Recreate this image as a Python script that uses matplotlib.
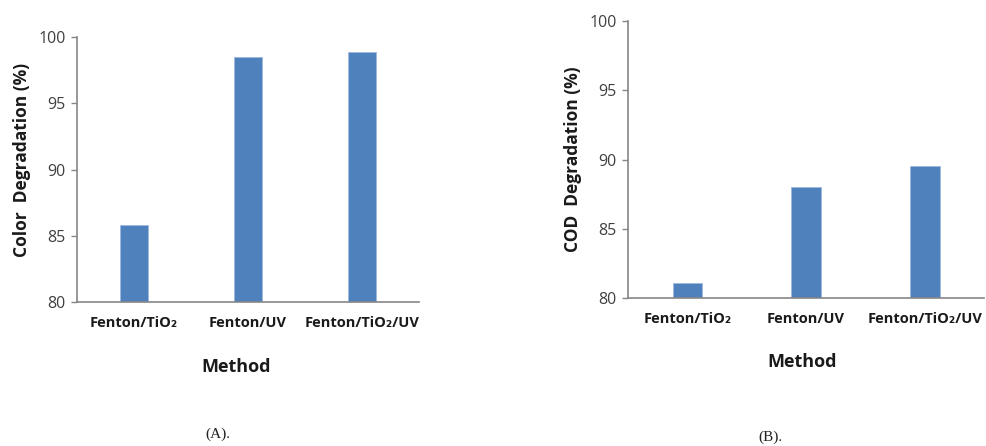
import matplotlib
matplotlib.use("Agg")
import matplotlib.pyplot as plt

methods = ["Fenton/TiO\u2082", "Fenton/UV", "Fenton/TiO\u2082/UV"]
color_degradation = [85.8, 98.5, 98.85]
cod_degradation = [81.1, 88.0, 89.5]
y_ticks = [80, 85, 90, 95, 100]

FAM = ["Open Sans", "DejaVu Sans"]
plt.rcParams["font.family"] = FAM

fig = plt.figure(figsize=(9.86, 4.46), dpi=100)

def panel(rect, values, ylabel, ylab_xy, xlab_xy):
    ax = fig.add_axes(rect)
    x = range(len(methods))
    ax.bar(x, values, width=0.25, color="#4F81BD", edgecolor="#9DB9DE", linewidth=0.6, zorder=2)
    ax.set_xlim(-0.5, 2.5)
    ax.set_ylim(80, 100)
    ax.set_yticks(y_ticks)
    ax.set_yticklabels([str(t) for t in y_ticks], fontsize=11.5, color="#404040")
    ax.set_xticks(list(x))
    ax.set_xticklabels(methods, fontsize=10.5, fontweight="bold", color="#1a1a1a")
    ax.tick_params(axis="x", length=0, pad=10)
    ax.tick_params(axis="y", length=4, width=1, color="#868686", direction="out", pad=4)
    for s in ["top", "right"]:
        ax.spines[s].set_visible(False)
    for s in ["left", "bottom"]:
        ax.spines[s].set_color("#868686")
        ax.spines[s].set_linewidth(1.2)
    ax.set_ylabel(ylabel, fontsize=12.5, fontweight="bold", color="#1a1a1a")
    ax.yaxis.set_label_coords(*ylab_xy)
    ax.yaxis.label.set_va("center")
    ax.set_xlabel("Method", fontsize=13, fontweight="bold", color="#1a1a1a")
    ax.xaxis.set_label_coords(*xlab_xy)
    ax.xaxis.label.set_va("center")
    return ax

panel([0.0781, 0.3229, 0.347, 0.594], color_degradation, "Color  Degradation (%)",
      (-0.16, 0.536), (0.465, -0.245))
panel([0.637, 0.331, 0.361, 0.6226], cod_degradation, "COD  Degradation (%)",
      (-0.155, 0.50), (0.49, -0.23))

fig.text(218 / 986, 1 - 434 / 446, "(A).", fontsize=11, family=["Liberation Serif", "DejaVu Serif"],
         ha="center", va="center", color="#222222")
fig.text(770 / 986, 1 - 437 / 446, "(B).", fontsize=11, family=["Liberation Serif", "DejaVu Serif"],
         ha="center", va="center", color="#222222")

fig.savefig("out.png", dpi=100)
